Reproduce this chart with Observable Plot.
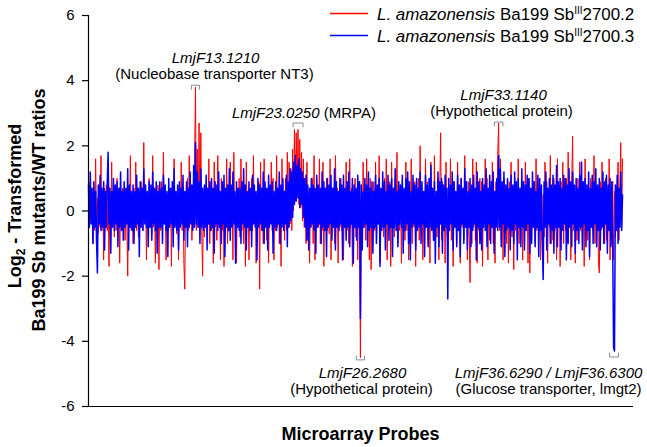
<!DOCTYPE html>
<html><head><meta charset="utf-8">
<script src="https://cdn.jsdelivr.net/npm/d3@7"></script>
<script src="https://cdn.jsdelivr.net/npm/@observablehq/plot@0.6"></script>
<style>body{margin:0;background:#fff;}</style>
</head><body><div id="chart"></div>
<script>
const legendSpecies = ["L. amazonensis", "L. amazonensis"];
const legendStrain = ["Ba199 Sb", "Ba199 Sb"];
const legendSup = ["III", "III"];
const legendClone = ["2700.2", "2700.3"];
const seriesColors = ["#ff0000", "#0000ff"];

const mutant2 = [ // red, Ba199 SbIII2700.2
0.6,-0.5,0.9,-0.4,0.5,-1.0,0.7,-0.6,1.6,-0.5,
0.4,-0.7,0.6,-0.5,1.7,-0.6,0.5,-1.5,0.7,-0.4,
0.8,-0.6,0.5,-1.7,0.6,-0.5,1.5,-0.4,0.7,-0.8,
0.5,-0.6,1.0,-0.5,0.6,-1.6,0.4,-0.5,0.7,-0.6,
0.7,-0.9,0.5,-0.4,-2.0,0.6,-0.5,1.7,-0.6,0.5,
-1.0,0.7,-0.5,1.5,-0.6,0.4,-0.8,0.6,-0.5,0.9,
0.5,-0.6,2.1,-0.4,0.7,-1.5,0.5,-0.6,1.0,-0.5,
0.6,-0.7,1.7,-0.5,0.4,-1.6,0.6,-0.4,0.8,-1.8,
0.5,-0.6,0.9,-0.5,1.8,-0.4,0.6,-1.5,0.5,-0.6,
0.7,-0.5,0.7,-1.7,0.5,-0.6,1.6,-0.4,0.6,-0.7,
0.7,-1.5,0.5,-0.5,1.5,-0.6,0.4,-1.6,-2.4,0.6,
-0.5,1.0,-0.6,1.7,-0.4,0.5,-0.9,0.7,-0.5,1.6,
3.8,-0.6,1.9,-0.5,2.7,-0.4,2.4,-0.6,-2.0,0.5,
-0.8,0.6,-0.5,0.7,-0.4,1.6,-1.0,0.5,-0.6,0.7,
-1.6,1.5,-0.5,0.6,-0.9,1.7,-0.4,0.5,-1.5,1.0,
-0.6,0.5,-1.7,0.7,-0.5,1.6,-1.0,0.4,-0.6,1.5,
-0.5,0.6,-1.5,1.8,-0.4,0.5,-1.6,0.7,-0.5,1.0,
-0.8,1.6,-0.6,0.5,-1.0,0.6,-1.7,1.5,-0.5,0.4,
-1.5,0.7,-0.5,1.0,-0.6,1.7,-0.4,0.6,-1.6,0.5,
-0.5,0.9,-2.4,1.5,-0.6,0.4,-1.0,1.6,-0.5,0.7,
-0.9,0.5,-1.6,0.6,-0.4,1.5,-0.6,1.0,-1.5,0.5,
-0.6,1.7,-0.5,0.7,-1.0,0.5,-1.7,1.6,-0.4,0.6,
-0.9,1.0,-0.6,1.8,-0.5,1.5,-0.4,1.3,-0.6,1.9,
0.0,2.5,0.3,2.4,0.5,2.5,0.2,2.2,0.1,1.8,
-0.3,1.6,-0.5,0.6,-1.0,1.5,-0.6,0.5,-1.6,0.7,
-0.5,1.0,-1.0,1.7,-1.5,0.6,-0.4,0.8,-0.5,1.6,
-1.0,0.5,-0.6,1.5,-1.7,0.7,-0.5,1.0,-0.6,0.4,
-0.7,1.6,-1.5,0.5,-0.4,0.6,-1.0,1.7,-0.5,0.7,
-1.6,0.6,-0.5,1.0,-0.6,0.5,-1.5,0.4,-0.5,1.5,
-0.6,0.9,-1.0,1.6,-0.5,0.7,-1.7,0.5,-0.4,1.0,
-0.8,0.6,-1.5,0.9,-0.6,-4.5,0.5,-1.0,1.5,-0.5,
0.6,-0.9,1.6,-0.5,0.4,-1.5,1.0,-1.8,0.6,-0.5,
0.9,-0.6,1.5,-1.0,0.5,-0.4,1.7,-1.6,0.7,-0.5,
0.6,-0.8,1.0,-0.5,1.6,-1.5,0.5,-0.6,0.9,-1.7,
1.5,-0.5,0.6,-0.8,1.0,-0.4,1.8,-1.0,0.5,-0.6,
0.7,-1.6,0.9,-0.5,0.6,-0.9,1.5,-0.6,1.0,-1.5,
0.5,-0.4,1.6,-1.0,0.6,-0.5,0.9,-1.7,0.7,-0.6,
1.0,-0.9,2.0,-0.5,0.6,-1.5,0.5,-0.6,1.6,-0.4,
0.9,-1.0,0.6,-1.6,1.5,-0.5,0.7,-0.9,1.7,-0.6,
0.5,-0.8,1.0,-1.5,0.6,2.4,-0.9,0.9,-0.5,0.6,
-1.6,1.5,-0.6,-1.0,0.5,-0.4,1.6,-0.9,0.7,-1.7,
0.9,-0.5,0.6,-1.0,1.5,-0.6,0.5,-1.6,1.0,-0.5,
0.6,-0.9,1.7,-0.5,0.7,-1.5,0.9,-0.6,-2.2,0.5,
-1.0,1.6,-0.5,0.6,-0.9,1.5,-1.6,0.4,-0.6,1.0,
-0.5,0.9,-1.7,0.6,-0.4,1.6,-0.6,1.0,-1.5,0.5,
-0.9,0.7,-0.5,1.5,-1.0,0.6,-1.6,0.9,-0.5,1.7,
2.7,-0.6,1.6,-0.9,0.5,-1.5,1.0,-0.4,0.7,-1.0,
0.6,-1.6,0.9,-0.5,1.5,-0.8,0.5,-1.8,1.0,-0.6,
0.5,-0.9,1.6,-1.0,0.6,-0.5,0.9,-1.5,0.7,-0.4,
1.5,-0.6,0.5,-1.6,1.0,-1.9,0.6,-0.9,0.5,-0.5,
0.9,-1.0,1.6,-0.6,0.7,-0.5,1.0,-1.5,0.6,-0.9,
0.5,-0.8,1.5,-0.4,0.9,-1.6,0.6,-0.5,1.7,-1.0,
0.7,-0.9,1.0,-0.6,0.5,-1.5,1.6,-0.5,0.6,-1.7,
0.9,-0.4,1.5,-1.0,0.6,-0.6,1.0,-0.9,1.8,-0.5,
0.5,-1.5,0.9,2.3,-0.6,0.7,-1.6,0.5,-0.9,1.0,
-0.5,1.5,-0.6,0.9,-1.0,0.6,-1.7,1.6,-0.4,0.5,
-0.9,0.6,-1.5,1.0,-0.5,0.9,-0.6,1.7,-1.0,0.7,
-0.5,0.8,-1.6,-1.9,0.9,-0.6,1.5,-0.4,0.6,-1.0,
1.0,-0.9,0.5,-0.6,1.6,-1.5,0.7,-0.5,0.9,-1.5,
0.6,-0.8,0.5,-0.4,1.5,-0.9,0.6,2.1,-0.5,1.6
];
const mutant3 = [ // blue, Ba199 SbIII2700.3
0.8,-0.5,1.2,-0.4,0.7,-1.0,0.9,-0.5,0.6,-0.9,
-1.9,0.8,-0.4,1.1,-0.6,0.7,-0.5,0.9,-1.2,0.6,
-0.5,0.8,1.8,-0.4,0.7,-1.3,0.6,-0.5,1.0,-0.6,
0.8,-0.4,0.9,-1.1,0.7,-0.5,1.2,-0.6,0.6,-0.9,
0.9,-0.5,0.7,-0.4,1.3,-1.2,0.8,-0.5,0.6,-0.6,
0.8,-1.0,0.6,-0.5,1.1,-0.4,0.7,-1.4,0.9,-0.5,
0.7,-0.6,1.3,-0.4,0.8,-0.5,0.6,-1.1,0.9,-0.5,
0.8,-0.9,1.2,-0.4,0.7,-0.6,0.9,-1.3,0.6,-0.5,
0.9,-0.5,0.7,-1.0,1.1,-0.4,0.8,-0.6,0.6,-1.4,
1.0,-0.5,0.7,-0.4,0.9,-1.1,1.3,-0.5,0.6,-0.6,
0.8,-1.2,0.9,-0.5,0.7,-0.4,1.1,-0.9,0.6,-0.5,
0.9,-1.1,0.7,-0.5,1.2,-0.4,0.8,-0.6,1.4,-0.5,
2.1,-0.4,1.2,-0.5,0.9,-1.0,1.3,-0.5,0.7,-0.6,
0.8,-0.5,1.1,-1.2,0.7,-0.4,0.9,-0.6,1.0,-0.5,
0.7,-1.3,0.9,-0.4,0.8,-0.6,1.2,-0.5,0.6,-1.0,
0.9,-0.4,1.1,-1.4,0.7,-0.5,0.8,-0.6,1.3,-0.9,
0.8,-0.5,1.2,-0.4,0.6,-1.6,0.9,-0.5,0.7,-0.6,
0.7,-1.0,0.9,-0.4,1.3,-0.5,0.8,-1.2,0.6,-0.5,
0.9,-0.6,0.7,-1.1,1.1,-0.4,0.8,-0.5,0.6,-1.5,
1.0,-0.5,0.8,-0.4,0.7,-0.6,1.2,-1.0,0.9,-0.5,
0.7,-1.2,1.1,-0.5,0.8,-0.4,0.9,-1.3,0.6,-0.5,
0.9,-0.6,0.7,-0.4,1.2,-1.0,0.8,-0.5,1.0,-0.6,
0.6,-0.4,1.1,-1.1,0.9,-0.5,1.3,-0.3,1.2,-0.2,
1.5,0.2,1.7,0.3,1.4,0.4,1.6,0.1,1.3,0.2,
1.2,-0.2,1.0,-0.5,1.1,-0.9,0.8,-1.2,0.7,-0.5,
1.0,-0.4,0.8,-0.6,0.7,-1.3,1.1,-0.5,0.8,-0.4,
0.7,-1.0,1.2,-0.5,0.9,-0.6,0.7,-1.4,1.0,-0.5,
0.8,-0.4,1.1,-0.9,0.7,-0.5,1.3,-1.2,0.9,-0.5,
0.6,-0.6,1.0,-0.4,0.8,-1.5,1.1,-0.5,0.7,-0.9,
0.9,-0.5,1.2,-1.1,0.6,-0.4,1.0,-1.6,0.8,-0.5,
0.7,-0.9,1.1,-0.5,0.9,-3.3,0.8,-1.2,0.6,-0.5,
1.0,-0.4,0.8,-1.1,1.2,-0.6,0.7,-0.5,0.9,-1.3,
0.6,-0.5,1.1,-1.0,0.8,-0.4,1.0,-1.7,0.7,-0.6,
1.2,-0.5,0.9,-1.2,0.6,-0.4,1.1,-0.9,0.8,-0.5,
1.0,-1.4,0.7,-0.5,1.3,-0.6,0.6,-1.1,0.9,-0.4,
0.8,-0.5,1.1,-1.3,0.7,-0.6,1.0,-0.4,1.2,-1.0,
0.9,-1.5,0.6,-0.5,1.1,-0.4,0.8,-1.2,1.0,-0.6,
0.7,-0.5,1.2,-1.0,0.9,-0.4,0.6,-1.4,1.1,-0.5,
0.8,-1.1,1.0,-0.5,1.4,-0.6,0.7,-0.9,0.9,-1.6,
0.6,-0.5,1.2,-1.1,0.9,-0.4,1.0,-1.3,0.8,-0.6,
1.1,-0.5,0.7,-2.7,1.0,-0.6,0.8,-0.4,1.2,-1.2,
0.9,-0.5,0.6,-1.1,1.1,-0.6,0.8,-1.4,1.0,-0.4,
0.7,-1.0,1.3,-0.5,0.9,-1.2,0.6,-0.5,1.0,-1.1,
0.8,-0.6,1.1,-0.4,0.7,-1.5,1.2,-0.5,0.9,-1.0,
0.6,-1.2,1.0,-0.5,0.8,-0.6,1.3,-1.1,0.7,-0.4,
1.1,-1.0,0.9,-0.5,1.2,-1.3,0.6,-0.5,1.0,-0.6,
1.7,-0.5,1.3,-1.1,0.9,-0.4,1.2,-1.4,0.8,-0.6,
1.0,-0.5,0.7,-1.2,1.1,-0.6,0.8,-1.0,1.2,-0.4,
0.9,-1.5,1.0,-0.5,0.7,-1.1,1.3,-0.5,0.9,-1.2,
0.8,-0.6,1.1,-0.4,1.0,-1.3,0.7,-1.0,1.2,-0.5,
0.9,-1.1,0.6,-0.5,1.1,-1.4,1.0,-0.6,0.8,-1.0,
-2.1,0.9,-0.5,1.2,-1.2,0.7,-0.4,1.0,-1.0,0.8,
-0.6,1.1,-1.3,0.8,-0.5,1.4,-1.1,0.9,-0.5,1.0,
-1.2,0.7,-0.6,1.1,-0.4,1.0,-1.5,0.8,-1.0,1.3,
-0.5,0.9,-1.1,1.2,-0.4,0.8,-1.3,1.0,-0.6,0.7,
-1.0,1.1,-0.5,1.5,-1.2,0.9,-0.4,1.0,-1.1,0.8,
-0.6,1.2,-1.4,0.7,-0.5,1.1,-1.0,0.9,-0.4,1.3,
-1.1,0.8,-0.6,1.0,-1.2,0.7,-0.5,1.2,-1.0,0.9,
-0.4,1.1,-1.3,0.8,-0.6,1.0,-1.1,0.9,-1.2,-4.2,
-4.3,0.8,-0.6,1.1,-1.0,0.7,-0.5,1.2,-0.6,0.5
];
const yTicks = [-6, -4, -2, 0, 2, 4, 6];
const geneIds = ["LmjF13.1210", "LmjF23.0250", "LmjF33.1140", "LmjF26.2680", "LmjF36.6290 / LmjF36.6300"];
const geneNotes = ["(Nucleobase transporter NT3)", " (MRPA)", "(Hypothetical protein)", "(Hypothetical protein)", "(Glucose transporter, lmgt2)"];
const geneProbes = [120, 235, 460, 305, 589.5];
const geneExtremes = [3.86, 2.70, 2.73, -4.57, -4.48];

// ---- layout (code, not data) ----
const FONT = "'Liberation Sans', Arial, Helvetica, sans-serif";
const labelPlacement = [
  {x1: 142.5, y1: 4.53, x2: 141.3, y2: 4.04, inline: false},
  {x1: 259.1, y1: 2.84, inline: true},
  {x1: 465.5, y1: 3.42, x2: 463.3, y2: 2.93, inline: false},
  {x1: 307.3, y1: -5.11, x2: 306.2, y2: -5.63, inline: false},
  {x1: 516, y1: -5.11, x2: 516, y2: -5.63, inline: false}
];
const bracketHalf = [4.6, 5.6, 4.8, 4.6, 5.0];

const brackets = [];
geneProbes.forEach((p, k) => {
  const v = geneExtremes[k], t = v > 0 ? -0.12 : 0.12, h = bracketHalf[k];
  brackets.push({k, x: p - h, y: v + t}, {k, x: p - h, y: v}, {k, x: p + h, y: v}, {k, x: p + h, y: v + t});
});

const line1 = labelPlacement.map((l, k) => ({x: l.x1, y: l.y1, text: geneIds[k]}));
const line2 = labelPlacement.map((l, k) => l.inline
  ? {x: l.x1, y: l.y1, text: geneNotes[k]}
  : {x: l.x2, y: l.y2, text: geneNotes[k]});

const chart = Plot.plot({
  width: 647, height: 447,
  marginLeft: 88, marginRight: 14, marginTop: 15, marginBottom: 41,
  x: {domain: [0, 611.3], axis: null},
  y: {domain: [-6, 6], axis: null},
  style: {fontFamily: FONT, color: "#000", background: "#fff", overflow: "visible"},
  marks: [
    Plot.lineY(mutant2, {stroke: seriesColors[0], strokeWidth: 1}),
    Plot.lineY(mutant3, {stroke: seriesColors[1], strokeWidth: 1.5}),
    Plot.axisY(yTicks, {tickSize: 6, tickPadding: 8, fontSize: 15, tickFormat: d => String(d), label: null, stroke: "#000", strokeWidth: 1.2}),
    Plot.ruleX([0], {stroke: "#000", strokeWidth: 1.2}),
    Plot.ruleY([-6], {stroke: "#000", strokeWidth: 1.2}),
    Plot.line(brackets, {x: "x", y: "y", z: "k", stroke: "#8c8c8c", strokeWidth: 1}),
    Plot.text(line1, {x: "x", y: "y", text: "text", lineAnchor: "bottom", fontSize: 15, fontStyle: "italic", fill: "#000"}),
    Plot.text(line2, {x: "x", y: "y", text: "text", lineAnchor: "bottom", fontSize: 15, fill: "#000"})
  ]
});
document.getElementById("chart").appendChild(chart);

const svg = d3.select(chart);
// inline label: italic id ends where the plain note starts
svg.selectAll("text").each(function() {
  const t = this.textContent;
  if (t === geneIds[1]) d3.select(this).attr("text-anchor", "end");
  if (t === geneNotes[1]) d3.select(this).attr("text-anchor", "start").style("white-space", "pre");
});

// legend
const lg = svg.append("g").attr("font-family", FONT).attr("font-size", 16.9).attr("fill", "#000").attr("text-anchor", "start");
[20, 42].forEach((base, k) => {
  lg.append("line").attr("x1", 330).attr("x2", 368).attr("y1", base - 6.5).attr("y2", base - 6.5)
    .attr("stroke", seriesColors[k]).attr("stroke-width", 1.5);
  const t = lg.append("text").attr("x", 377).attr("y", base).attr("text-anchor", "start");
  t.append("tspan").attr("font-style", "italic").text(legendSpecies[k]);
  t.append("tspan").text("\u00a0" + legendStrain[k]);
  t.append("tspan").attr("font-size", 10).attr("dy", -6.5).text(legendSup[k]);
  t.append("tspan").attr("dy", 6.5).text(legendClone[k]);
});

// axis titles
const at = svg.append("g").attr("font-family", FONT).attr("font-weight", "bold").attr("fill", "#000").attr("font-size", 18);
const t1 = at.append("text").attr("text-anchor", "middle").attr("transform", "translate(20.5,206) rotate(-90)");
t1.append("tspan").text("Log");
t1.append("tspan").attr("font-size", 12).attr("dy", 4).text("2");
t1.append("tspan").attr("dy", -4).text("\u00a0- Transformed");
at.append("text").attr("text-anchor", "middle").attr("transform", "translate(44.5,210) rotate(-90)").text("Ba199 Sb mutants/WT ratios");
at.append("text").attr("text-anchor", "middle").attr("x", 360.5).attr("y", 440).text("Microarray Probes");
</script>
</body></html>
